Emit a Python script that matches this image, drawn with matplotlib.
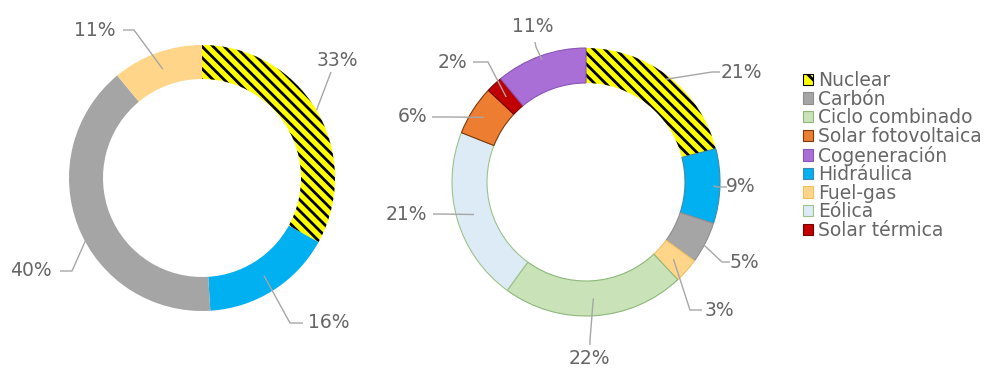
import matplotlib
matplotlib.use("Agg")
import numpy as np
import matplotlib.pyplot as plt
from matplotlib.patches import Patch

# datos
left_cats = ["Nuclear", "Hidráulica", "Carbón", "Fuel-gas"]
left_vals = [33, 16, 40, 11]

right_cats = ["Nuclear", "Hidráulica", "Carbón", "Fuel-gas", "Ciclo combinado",
              "Eólica", "Solar fotovoltaica", "Solar térmica", "Cogeneración"]
right_vals = [21, 9, 5, 3, 22, 21, 6, 2, 11]

legend_order = ["Nuclear", "Carbón", "Ciclo combinado", "Solar fotovoltaica",
                "Cogeneración", "Hidráulica", "Fuel-gas", "Eólica", "Solar térmica"]

colors = {
    "Nuclear": "#FFFF00",
    "Carbón": "#A5A5A5",
    "Ciclo combinado": "#C9E2B8",
    "Solar fotovoltaica": "#ED7D31",
    "Cogeneración": "#A96FD6",
    "Hidráulica": "#00B0F0",
    "Fuel-gas": "#FFD58A",
    "Eólica": "#DDEBF7",
    "Solar térmica": "#C00000",
}
edges = {
    "Ciclo combinado": "#8DB87A",
    "Eólica": "#9CC38A",
    "Solar fotovoltaica": "#7A3A10",
    "Solar térmica": "#7A0000",
    "Cogeneración": "#8A55B5",
    "Hidráulica": "#3A8AB0",
    "Fuel-gas": "#F0C060",
    "Carbón": "#8F8F8F",
}

W, H = 1001, 370
plt.rcParams["hatch.linewidth"] = 2.0
plt.rcParams["font.family"] = ["DejaVu Sans"]
TXT = "#666666"
LINE = "#A6A6A6"
HATCH = "\\\\\\"

fig = plt.figure(figsize=(W / 100, H / 100), dpi=100)
ax = fig.add_axes([0, 0, 1, 1])


def donut(cats, vals, cx, cy, R, w, label_pos, edge_lw):
    wedges, _ = ax.pie(vals, colors=[colors[c] for c in cats], startangle=90,
                       counterclock=False, center=(cx, H - cy), radius=R,
                       wedgeprops=dict(width=w, linewidth=edge_lw))
    for wd, c in zip(wedges, cats):
        if c == "Nuclear":
            wd.set_hatch(HATCH)
            wd.set_edgecolor("black")
            wd.set_linewidth(0)
        else:
            wd.set_edgecolor(edges.get(c, colors[c]) if edge_lw > 0 else colors[c])
    # etiquetas con líneas guía
    for wd, v, (tx, ty, ex, ey, frac) in zip(wedges, vals, label_pos):
        ang = np.deg2rad((wd.theta1 + wd.theta2) / 2)
        r = R * frac
        axp, ayp = cx + r * np.cos(ang), H - cy + r * np.sin(ang)
        ax.text(tx, H - ty, f"{v}%", ha="center", va="center", fontsize=13.5,
                color=TXT)
        ax.plot([ex[0], ey[0], axp], [H - ex[1], H - ey[1], ayp],
                color=LINE, lw=1.0, solid_capstyle="butt")


# posiciones: centro del texto, inicio de línea, codo, radio relativo
left_pos = [
    (337, 60, (331, 72), (331, 72), 1.0),
    (329, 322, (303, 323), (290, 323), 0.87),
    (31, 270, (60, 271), (72, 271), 0.87),
    (95, 30, (123, 30), (134, 30), 0.87),
]
right_pos = [
    (741, 72, (720, 72), (712, 72), 0.97),
    (741, 187, (727, 187), (718, 187), 0.95),
    (744, 262, (730, 262), (722, 262), 0.93),
    (719, 310, (702, 310), (690, 310), 0.87),
    (589, 358, (590, 345), (590, 340), 0.87),
    (406, 214, (433, 214), (440, 214), 0.87),
    (413, 117, (432, 117), (450, 117), 0.9),
    (452, 62, (473, 62), (488, 62), 0.87),
    (533, 27, (535, 42), (536, 47), 0.97),
]

donut(left_cats, left_vals, 202, 178, 133, 34, left_pos, 0)
donut(right_cats, right_vals, 586, 182, 134, 35, right_pos, 0.8)

handles = []
for c in legend_order:
    p = Patch(facecolor=colors[c], edgecolor=edges.get(c, colors[c]), lw=0.8)
    if c == "Nuclear":
        p = Patch(facecolor=colors[c], edgecolor="black", hatch="\\\\", lw=0.8)
    handles.append(p)
ax.legend(handles, legend_order, loc="upper left",
          bbox_to_anchor=(803, H - 71), bbox_transform=ax.transData,
          frameon=False, fontsize=13.5, labelcolor=TXT, handlelength=0.55,
          handleheight=0.55, handletextpad=0.25, labelspacing=-0.02,
          borderpad=0, borderaxespad=0)

ax.set_xlim(0, W)
ax.set_ylim(0, H)
ax.set_aspect("equal")
ax.axis("off")

fig.savefig("out.png", dpi=100)
